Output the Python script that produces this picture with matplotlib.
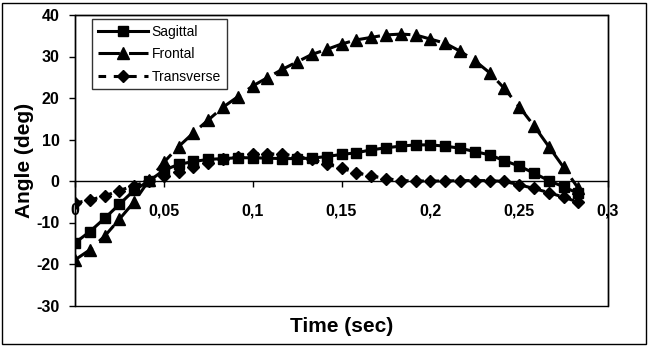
import matplotlib
matplotlib.use("Agg")
import matplotlib.pyplot as plt
from matplotlib.patches import Rectangle
from matplotlib.ticker import FuncFormatter, MultipleLocator

plt.rcParams["font.family"] = ["Liberation Sans", "DejaVu Sans"]
plt.rcParams["axes.unicode_minus"] = False

# time samples (120 Hz)
time = [i / 120 for i in range(35)]

sagittal = [-14.9, -12.2, -9.0, -5.6, -2.2, 0.0, 2.6, 4.0, 4.7, 5.2,
            5.4, 5.6, 5.6, 5.5, 5.4, 5.4, 5.5, 5.9, 6.4, 6.8,
            7.5, 8.0, 8.4, 8.7, 8.7, 8.4, 7.9, 7.1, 6.3, 4.9,
            3.6, 1.9, 0.1, -1.4, -3.0]

frontal = [-19.0, -16.6, -13.3, -9.2, -5.0, 0.2, 4.5, 8.3, 11.6, 14.7,
           17.8, 20.3, 22.9, 24.9, 26.9, 28.7, 30.5, 31.7, 33.0, 34.0,
           34.6, 35.2, 35.4, 35.2, 34.2, 33.2, 31.3, 29.0, 26.1, 22.3,
           17.9, 13.3, 8.3, 3.3, -1.8]

transverse = [-5.3, -4.6, -3.6, -2.3, -1.1, 0.0, 1.3, 2.2, 3.4, 4.3,
              5.2, 5.9, 6.5, 6.5, 6.5, 5.9, 5.2, 4.1, 3.1, 2.0,
              1.2, 0.6, 0.1, 0.0, 0.0, 0.0, 0.1, 0.1, 0.1, -0.1,
              -0.9, -1.8, -2.8, -3.9, -5.1]

fig = plt.figure(figsize=(6.49, 3.46), dpi=100)
ax = fig.add_axes([75 / 649, 1 - 305.5 / 346, 533 / 649, 290.5 / 346])

ax.plot(time, sagittal, color="black", lw=2.2, marker="s", ms=7, label="Sagittal")
ax.plot(time, frontal, color="black", lw=2.2, marker="^", ms=8.5,
        dashes=(7, 3), label="Frontal")
ax.plot(time, transverse, color="black", lw=2.2, marker="D", ms=6.2,
        dashes=(2.5, 2.5), label="Transverse")

ax.set_xlim(0, 0.3)
ax.set_ylim(-30, 40)
ax.xaxis.set_major_locator(MultipleLocator(0.05))
ax.yaxis.set_major_locator(MultipleLocator(10))
ax.xaxis.set_major_formatter(FuncFormatter(lambda v, p: ("%g" % round(v, 2)).replace(".", ",")))

# x axis crosses at zero, keep a full frame around the plot area
ax.spines["bottom"].set_position(("data", 0))
for s in ax.spines.values():
    s.set_linewidth(1)
ax.add_patch(Rectangle((0, 0), 1, 1, transform=ax.transAxes, fill=False,
                       edgecolor="black", lw=1, clip_on=False, zorder=0))

ax.tick_params(axis="x", direction="out", length=4, width=1, pad=12,
               labelsize=11.5)
ax.tick_params(axis="y", direction="out", length=4, width=1, pad=7,
               labelsize=11.5)
for lab in ax.get_xticklabels() + ax.get_yticklabels():
    lab.set_fontweight("bold")

ax.set_ylabel("Angle (deg)", fontsize=15, fontweight="bold", labelpad=2)
fig.text(341.5 / 649, 1 - 326 / 346, "Time (sec)", fontsize=15,
         fontweight="bold", ha="center", va="center")

leg = ax.legend(loc="upper left", bbox_to_anchor=(17 / 533, 1 - 4 / 290.5),
                fontsize=10, frameon=True, fancybox=False, handlelength=3.6,
                borderpad=0.4, labelspacing=0.62, handletextpad=0.3,
                borderaxespad=0)
leg.get_frame().set_edgecolor("black")
leg.get_frame().set_linewidth(1)

# outer border of the figure
fig.add_artist(Rectangle((2 / 649, 2 / 346), 644 / 649, 341 / 346,
                         transform=fig.transFigure, fill=False,
                         edgecolor="black", lw=1))

fig.savefig("out.png", dpi=100)
